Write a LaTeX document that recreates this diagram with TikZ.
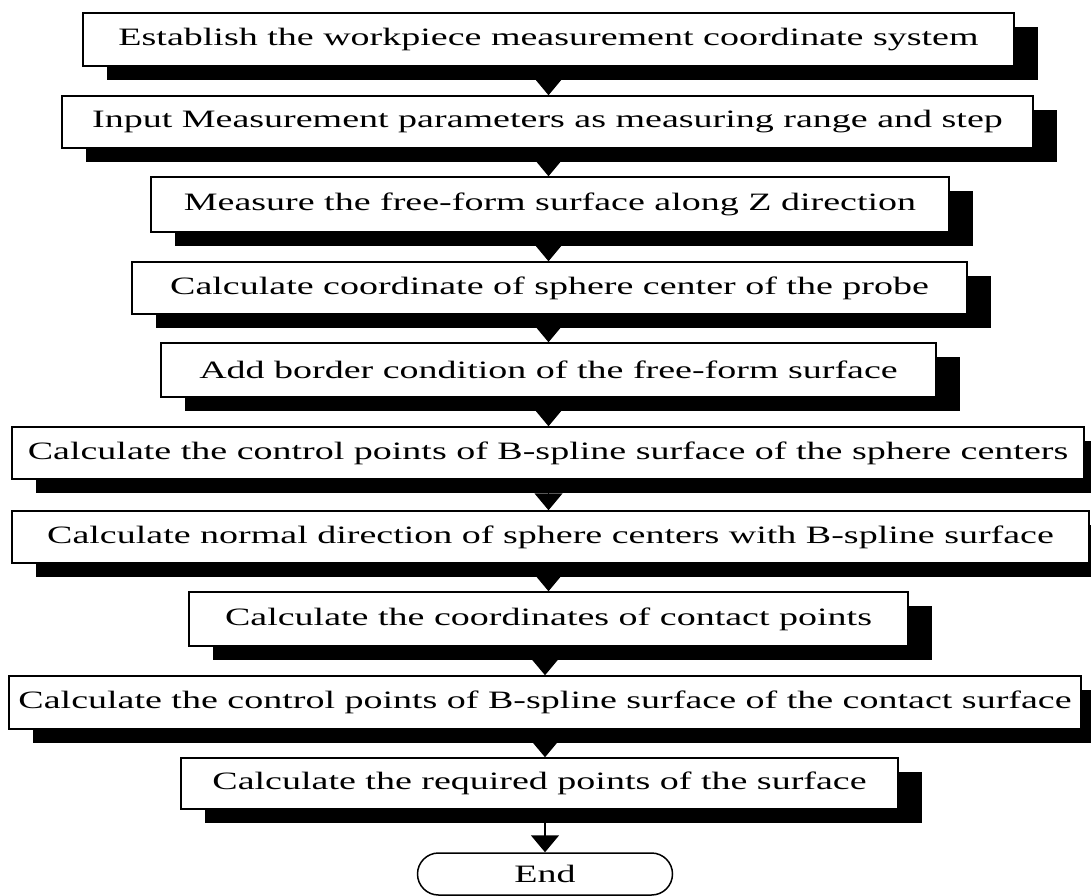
\documentclass[tikz,border=0pt]{standalone}
\usepackage{fontspec}
\usepackage{graphicx}
\setmainfont{Liberation Serif}
\usetikzlibrary{shadows,arrows.meta}

\newcommand{\widetext}[1]{\scalebox{1.52}[1]{#1}}

\tikzset{
  flowbox/.style={draw, line width=1.5pt, fill=white, inner sep=0pt,
    minimum height=52pt,
    font=\fontsize{25}{30}\selectfont,
    drop shadow={shadow xshift=24pt, shadow yshift=-14pt, opacity=1, fill=black}},
  endbox/.style={draw, line width=1.5pt, fill=white, rounded corners=21pt,
    minimum width=255pt, minimum height=42pt,
    font=\fontsize{25}{30}\selectfont},
  flowarrow/.style={line width=1.5pt, -{Triangle[width=28pt,length=17pt]}}
}

\begin{document}
\begin{tikzpicture} [x=1pt, y=-1pt]
  \useasboundingbox (0,0) rectangle (1091,895);
  \path  (548.5,39.5)  node[flowbox, minimum width=931pt, minimum height=53pt] (establish) {\widetext{Establish the workpiece measurement coordinate system}}
         (547.5,122)   node[flowbox, minimum width=971pt] (input) {\widetext{Input Measurement parameters as measuring range and step}}
         (550,204.5)   node[flowbox, minimum width=798pt, minimum height=55pt] (measure) {\widetext{Measure the free-form surface along Z direction}}
         (549.5,288)   node[flowbox, minimum width=835pt] (center) {\widetext{Calculate coordinate of sphere center of the probe}}
         (548.5,370)   node[flowbox, minimum width=775pt, minimum height=54pt] (border) {\widetext{Add border condition of the free-form surface}}
         (548,453)     node[flowbox, minimum width=1072pt] (ctrlcenters) {\widetext{Calculate the control points of B-spline surface of the sphere centers}}
         (550.5,537)   node[flowbox, minimum width=1077pt] (normal) {\widetext{Calculate normal direction of sphere centers with B-spline surface}}
         (548.5,619)   node[flowbox, minimum width=719pt, minimum height=54pt] (contact) {\widetext{Calculate the coordinates of contact points}}
         (545,702.5)   node[flowbox, minimum width=1072pt, minimum height=53pt] (ctrlcontact) {\widetext{Calculate the control points of B-spline surface of the contact surface}}
         (539.5,783.5) node[flowbox, minimum width=717pt, minimum height=51pt] (required) {\widetext{Calculate the required points of the surface}}
         (545,874)     node[endbox] (end) {\widetext{End}};
    \draw [flowarrow] (establish.south) to (input.north -| establish);
    \draw [flowarrow] (input.south -| establish) to (measure.north -| establish);
    \draw [flowarrow] (measure.south -| establish) to (center.north -| establish);
    \draw [flowarrow] (center.south -| establish) to (border.north -| establish);
    \draw [flowarrow] (border.south -| establish) to (ctrlcenters.north -| establish);
    \draw [flowarrow] (ctrlcenters.south -| establish) to (normal.north -| establish);
    \draw [flowarrow] (normal.south -| establish) to (contact.north -| establish);
    \draw [flowarrow] (contact.south -| end) to (ctrlcontact.north -| end);
    \draw [flowarrow] (ctrlcontact.south -| end) to (required.north -| end);
    \draw [flowarrow] (required.south -| end) to (end.north);

\end{tikzpicture}
\end{document}
